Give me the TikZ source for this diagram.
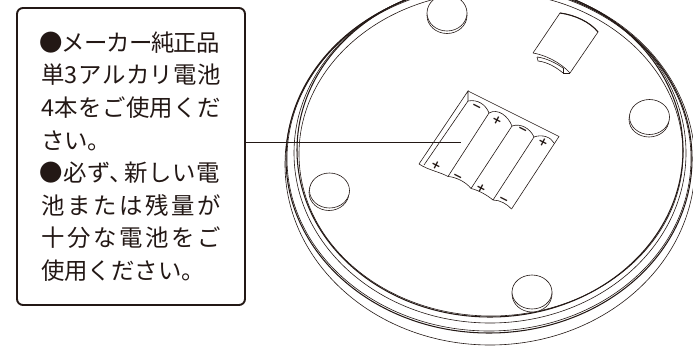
\documentclass[tikz,border=0pt]{standalone}
\usepackage{fontspec}
\setmainfont{Noto Sans CJK JP}
\newfontfamily\symfont{DejaVu Sans}
\definecolor{ink}{HTML}{231815}
\newcommand{\fitline}[1]{\hbox to 180pt{#1}}
\newcommand{\gp}{\hss}
\tikzset{
  calloutbox/.style={draw=ink,line width=1.9pt,rounded corners=6pt,minimum width=228pt,minimum height=297pt,inner sep=0pt,text=ink,font=\fontsize{23.4}{32.6}\selectfont,align=left},
  leader/.style={draw=ink,line width=0.9pt},
  fineline/.style={draw=ink,line width=0.6pt},
  heavyline/.style={draw=ink,line width=1.05pt},
  polar/.style={font=\symfont\bfseries\fontsize{12}{12}\selectfont,text=ink,inner sep=0pt,rotate=-27},
  footpad/.style={draw=ink,line width=0.6pt,fill=white}
}
\begin{document}
\begin{tikzpicture}[x=1pt,y=-1pt]
\useasboundingbox (0,0) rectangle (693,346);
% rings of the base
\begin{scope}
\clip (0,0) rectangle (693,346);
\draw[fineline] (490,164.4) ellipse [x radius=205,y radius=180.6];
\draw[heavyline] (489,159) ellipse [x radius=203,y radius=174];
\draw[fineline] (489,158.5) ellipse [x radius=202,y radius=172.5];
\draw[fineline] (490,153) ellipse [x radius=196,y radius=170];
\draw[heavyline] (490,150) ellipse [x radius=193,y radius=167];
\draw[fineline] (491,154) ellipse [x radius=192,y radius=162];
% feet
\draw[footpad] (447,15.5) ellipse [x radius=20,y radius=18];
\draw[footpad] (447,13) ellipse [x radius=20,y radius=18];
\end{scope}
\draw[footpad] (649,119.5) ellipse [x radius=20,y radius=17.5];
\draw[footpad] (649.5,117) ellipse [x radius=20,y radius=17.5];
\draw[footpad] (329,192.5) ellipse [x radius=20,y radius=18];
\draw[footpad] (329.5,190.5) ellipse [x radius=20,y radius=17.5];
\draw[footpad] (532,294) ellipse [x radius=20,y radius=18];
\draw[footpad] (532,292) ellipse [x radius=20,y radius=17];
% spare cell
\coordinate (c1) at (560,13);
\coordinate (c2) at (598,32);
\coordinate (c3) at (570,73);
\coordinate (c4) at (533,53);
\draw[fineline,line join=round] (c4) -- (c1) .. controls (575,15) and (590,22) .. (c2) -- (c3);
\draw[heavyline] (c1) .. controls (575,15) and (590,22) .. (c2);
\draw[fineline] (c4) .. controls (545,55) and (560,62) .. (c3);
\draw[fineline] (537,57) .. controls (546,58) and (556,63) .. (563,68);
\draw[fineline] (537,57) -- (538,61);
\draw[fineline] (538,61) .. controls (547,62) and (556,67) .. (563,73);
\draw[fineline] (563,68) -- (563,73) -- (570,73);
% compartment
\coordinate (a) at (468,91);
\coordinate (b) at (559,136.5);
\coordinate (e) at (511.5,209);
\coordinate (d) at (419,164);
\coordinate (i) at (468,101);
\coordinate (j) at (489,113);
\coordinate (k) at (512,126);
\coordinate (l) at (534,137);
\coordinate (m) at (554,143);
\coordinate (n) at (424,165);
\coordinate (p) at (448,176.5);
\coordinate (q) at (471,188.5);
\coordinate (r) at (493,200);
\draw[fineline,line join=miter] (a) -- (b) -- (e);
\draw[fineline] (d) -- (a) -- (i) -- (n);
\draw[fineline] (i) .. controls (478,99) and (486,105) .. (j);
\draw[fineline] (j) .. controls (498,108) and (508,116) .. (k);
\draw[fineline] (k) .. controls (520,123) and (530,128) .. (l);
\draw[fineline] (l) .. controls (542,134) and (551,137) .. (m);
\draw[fineline] (j) -- (p);
\draw[fineline] (k) -- (q);
\draw[fineline] (l) -- (r);
\draw[fineline] (d) .. controls (428,170) and (440,172) .. (p);
\draw[fineline] (p) .. controls (456,177) and (466,182) .. (q);
\draw[fineline] (q) .. controls (478,190) and (487,195) .. (r);
\draw[fineline] (r) .. controls (500,200) and (507,204) .. (e);
\node[polar] (m1) at (476,108) {−};
\node[polar] (p1) at (497,120.5) {+};
\node[polar] (m2) at (522,131) {−};
\node[polar] (p2) at (543,142) {+};
\node[polar] (p3) at (436,165) {+};
\node[polar] (m3) at (457,178) {−};
\node[polar] (p4) at (481,188) {+};
\node[polar] (m4) at (503,201) {−};
% callout
\node[calloutbox,fill=white] (note) at (131,156.5) {%
\hspace*{-1.5pt}\fitline{●\gp メ\gp ー\gp カ\gp ー\gp 純\gp 正\gp 品}\\
\fitline{単\gp 3\gp ア\gp ル\gp カ\gp リ\gp 電\gp 池}\\
\fitline{4\gp 本\gp を\gp ご\gp 使\gp 用\gp く\gp だ}\\
さい。\\
\hspace*{-1.5pt}\fitline{●\gp 必\gp ず、\kern-9pt\gp 新\gp し\gp い\gp 電}\\
\fitline{池\gp ま\gp た\gp は\gp 残\gp 量\gp が}\\
\fitline{十\gp 分\gp な\gp 電\gp 池\gp を\gp ご}\\
使用ください。};
\coordinate (target) at (461,142);
\draw[leader] (target -| note.east) -- (target);
\end{tikzpicture}
\end{document}
